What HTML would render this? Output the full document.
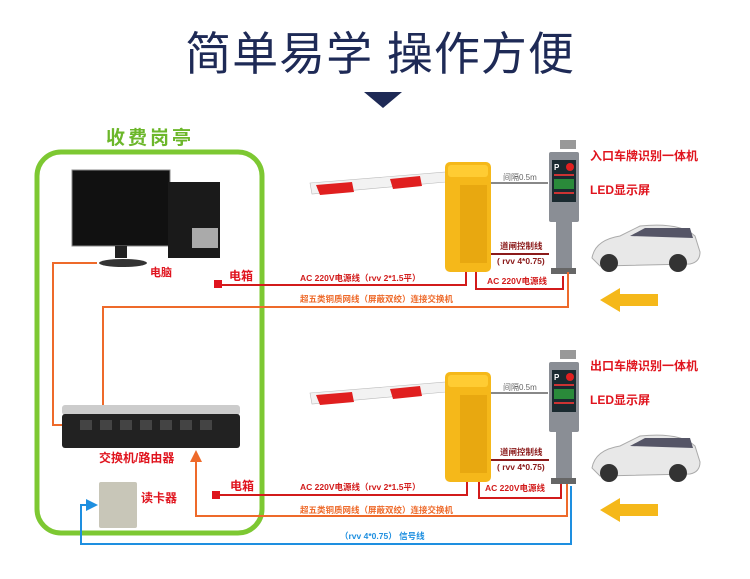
<!DOCTYPE html>
<html><head><meta charset="utf-8"><style>
html,body{margin:0;padding:0;background:#fff;width:750px;height:579px;overflow:hidden}
svg text{font-family:"Liberation Sans","Noto Sans CJK SC",sans-serif}
</style></head><body>
<svg width="750" height="579" viewBox="0 0 750 579" xmlns="http://www.w3.org/2000/svg">
<defs>
<marker id="ao" markerWidth="6" markerHeight="6" refX="5" refY="3" orient="auto"><path d="M0,0L6,3L0,6z" fill="#ee6a2a"/></marker>
<marker id="ab" markerWidth="6" markerHeight="6" refX="5" refY="3" orient="auto"><path d="M0,0L6,3L0,6z" fill="#1e8fe0"/></marker>
<g id="gate">
  <polygon points="310,183 446,172 446,182 312,194" fill="#f2f2f2" stroke="#bbb" stroke-width="0.6"/>
  <polygon points="316,185 352,182 354,192 320,195" fill="#e01f1f"/>
  <polygon points="390,179 420,176 422,186 393,189" fill="#e01f1f"/>
  <rect x="445" y="162" width="46" height="110" rx="5" fill="#f5b81a"/>
  <rect x="448" y="165" width="40" height="12" rx="3" fill="#ffcc33"/>
  <rect x="460" y="185" width="27" height="78" fill="#e8a810"/>
  <line x1="491" y1="183" x2="548" y2="183" stroke="#888" stroke-width="2"/>
  <text x="503" y="180" font-size="8" fill="#666">间隔0.5m</text>
  <rect x="560" y="140" width="16" height="9" fill="#999"/>
  <rect x="549" y="152" width="30" height="70" rx="2" fill="#8a8e95"/>
  <rect x="552" y="160" width="24" height="42" fill="#1a2a30"/>
  <text x="554" y="170" font-size="8" fill="#fff" font-weight="bold">P</text>
  <circle cx="570" cy="167" r="4" fill="#e02020"/>
  <rect x="554" y="174" width="20" height="2" fill="#c33"/>
  <rect x="554" y="179" width="20" height="10" fill="#2a8a3a"/>
  <rect x="554" y="192" width="20" height="2" fill="#c33"/>
  <rect x="556" y="222" width="16" height="48" fill="#8a8e95"/>
  <rect x="551" y="268" width="25" height="6" fill="#666"/>
  <path d="M592,258 Q595,240 620,236 L640,226 Q680,222 695,236 L700,252 Q700,262 690,264 L600,266 Z" fill="#e8e8e8" stroke="#aaa"/>
  <path d="M630,236 L645,228 L690,228 L693,238 Z" fill="#556"/>
  <circle cx="609" cy="263" r="9" fill="#333"/><circle cx="678" cy="263" r="9" fill="#333"/>
  <polygon points="600,300 620,288 620,294 658,294 658,306 620,306 620,312" fill="#f5b81a"/>
</g>
</defs>

<text x="380" y="70" font-size="46" fill="#1e2a56" text-anchor="middle" letter-spacing="1">简单易学 操作方便</text>
<polygon points="364,92 402,92 383,108" fill="#1e2a56"/>

<text x="150" y="144" font-size="19" font-weight="bold" fill="#6cb72a" text-anchor="middle" letter-spacing="3">收费岗亭</text>
<rect x="37" y="152" width="225" height="381" rx="24" fill="none" stroke="#7dc832" stroke-width="5"/>

<!-- computer -->
<rect x="72" y="170" width="98" height="76" fill="#111" stroke="#888"/>
<rect x="115" y="246" width="12" height="12" fill="#222"/>
<ellipse cx="123" cy="263" rx="24" ry="4" fill="#333"/>
<rect x="168" y="182" width="52" height="76" fill="#1a1a1a"/>
<rect x="192" y="228" width="26" height="20" fill="#aaa"/>
<text x="150" y="276" font-size="11" font-weight="bold" fill="#e0141e">电脑</text>
<text x="229" y="280" font-size="12" font-weight="bold" fill="#e0141e">电箱</text>
<rect x="214" y="280" width="8" height="8" fill="#e0141e"/>

<use href="#gate"/>
<use href="#gate" y="210"/>

<text x="590" y="160" font-size="12" font-weight="bold" fill="#e0141e">入口车牌识别一体机</text>
<text x="590" y="194" font-size="12" font-weight="bold" fill="#e0141e">LED显示屏</text>
<text x="590" y="370" font-size="12" font-weight="bold" fill="#e0141e">出口车牌识别一体机</text>
<text x="590" y="404" font-size="12" font-weight="bold" fill="#e0141e">LED显示屏</text>

<!-- top lane lines -->
<g fill="none" stroke-width="2">
<path d="M222,285 H466 V272" stroke="#d21b1b"/>
<path d="M476,272 V289 H563 V276" stroke="#d21b1b"/>
<path d="M491,254 H549" stroke="#8b1a1a"/>
<path d="M568,272 V307 H103 V418" stroke="#ee6a2a" marker-end="url(#ao)"/>
<path d="M97,263 H53 V425 H86" stroke="#ee6a2a" marker-end="url(#ao)"/>
</g>
<g font-size="8.5" font-weight="bold">
<text x="300" y="281" fill="#d21b1b">AC 220V电源线（rvv 2*1.5平）</text>
<text x="487" y="284" fill="#d21b1b">AC 220V电源线</text>
<text x="500" y="249" fill="#8b1a1a">道闸控制线</text>
<text x="497" y="264" fill="#8b1a1a">( rvv 4*0.75)</text>
<text x="300" y="302" fill="#ee6a2a">超五类铜质网线（屏蔽双绞）连接交换机</text>
</g>

<!-- switch -->
<rect x="62" y="405" width="178" height="10" rx="3" fill="#ccc"/>
<rect x="62" y="414" width="178" height="34" rx="3" fill="#222"/>
<g fill="#444"><rect x="80" y="420" width="12" height="10"/><rect x="100" y="420" width="12" height="10"/><rect x="120" y="420" width="12" height="10"/><rect x="140" y="420" width="12" height="10"/><rect x="160" y="420" width="12" height="10"/><rect x="180" y="420" width="12" height="10"/><rect x="200" y="420" width="12" height="10"/></g>
<text x="99" y="462" font-size="12" font-weight="bold" fill="#e0141e">交换机/路由器</text>
<rect x="99" y="482" width="38" height="46" rx="2" fill="#c8c6b8"/>
<text x="141" y="502" font-size="12" font-weight="bold" fill="#e0141e">读卡器</text>
<text x="230" y="490" font-size="12" font-weight="bold" fill="#e0141e">电箱</text>
<rect x="212" y="491" width="8" height="8" fill="#e0141e"/>

<!-- bottom lane lines -->
<g fill="none" stroke-width="2">
<path d="M216,495 H467 V482" stroke="#d21b1b"/>
<path d="M479,482 V498 H561 V484" stroke="#d21b1b"/>
<path d="M491,460 H549" stroke="#8b1a1a"/>
<path d="M567,484 V516 H196 V452" stroke="#ee6a2a" marker-end="url(#ao)"/>
<path d="M571,486 V544 H81 V505 H96" stroke="#1e8fe0" marker-end="url(#ab)"/>
</g>
<g font-size="8.5" font-weight="bold">
<text x="300" y="490" fill="#d21b1b">AC 220V电源线（rvv 2*1.5平）</text>
<text x="485" y="491" fill="#d21b1b">AC 220V电源线</text>
<text x="500" y="455" fill="#8b1a1a">道闸控制线</text>
<text x="497" y="470" fill="#8b1a1a">( rvv 4*0.75)</text>
<text x="300" y="513" fill="#ee6a2a">超五类铜质网线（屏蔽双绞）连接交换机</text>
<text x="340" y="539" fill="#1e8fe0">（rvv 4*0.75） 信号线</text>
</g>
</svg>
</body></html>
